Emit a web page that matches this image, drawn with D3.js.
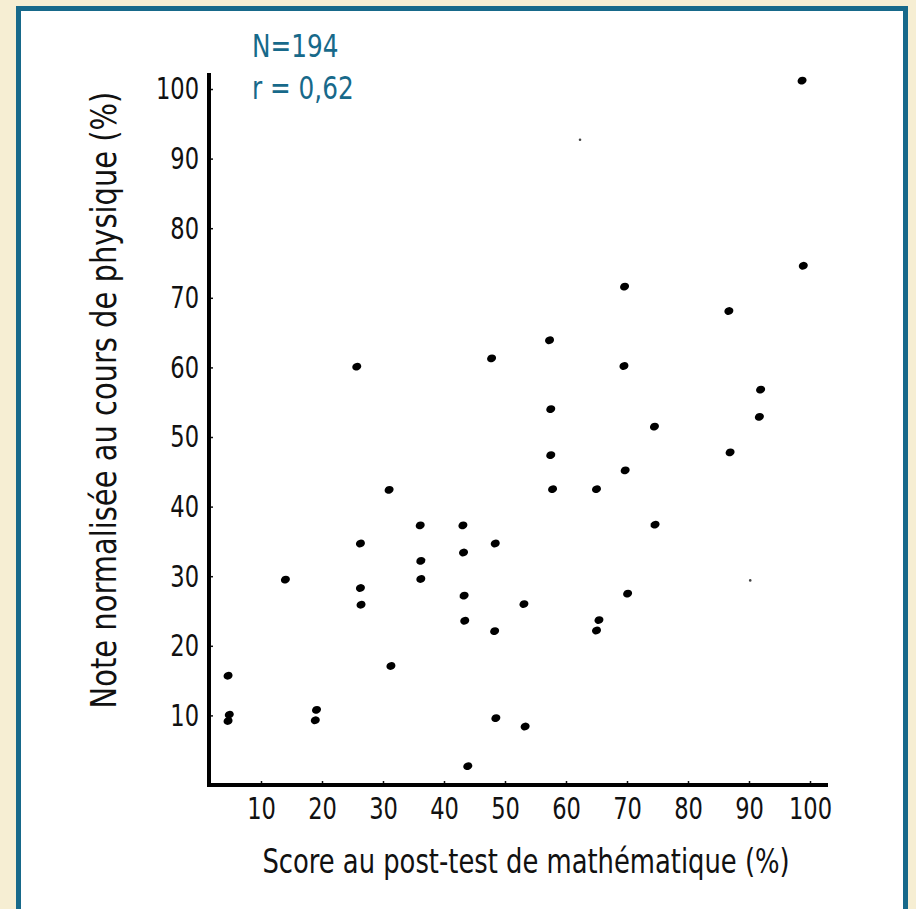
<!DOCTYPE html>
<html>
<head>
<meta charset="utf-8">
<script src="https://cdn.jsdelivr.net/npm/d3@7"></script>
<style>
  html, body { margin: 0; padding: 0; background: #f6eed3; }
  svg { display: block; }
  text { font-family: "Liberation Sans Narrow", "DejaVu Sans Condensed", sans-serif; }
</style>
</head>
<body>
<svg id="chart" width="916" height="909"></svg>
<script>
// score au post-test (x) / note normalisée (y)
const mathScore = [4.6, 4.8, 4.6, 19.1, 18.9, 14.0, 25.7, 26.3, 26.3, 26.4, 31.0, 31.3,
  36.1, 36.2, 36.2, 43.1, 43.2, 43.3, 43.4, 43.9, 47.8, 48.4, 48.3, 48.5, 53.1, 53.3,
  57.3, 57.5, 57.5, 57.8, 65.0, 65.4, 65.0, 69.6, 69.5, 69.7, 70.1, 74.5, 74.6,
  86.7, 86.9, 91.9, 91.7, 98.7, 98.9];
const physNote = [15.7, 10.1, 9.2, 10.8, 9.3, 29.5, 60.1, 34.7, 28.3, 25.9, 42.4, 17.1,
  37.3, 32.2, 29.6, 37.3, 33.4, 27.2, 23.6, 2.7, 61.3, 34.7, 22.1, 9.6, 26.0, 8.4,
  63.9, 54.0, 47.4, 42.5, 42.5, 23.7, 22.2, 71.6, 60.2, 45.2, 27.5, 51.5, 37.4,
  68.1, 47.8, 56.8, 52.9, 101.2, 74.6];
// petites taches du scan
const speckX = [62.3, 90.2];
const speckY = [92.7, 29.4];

const xTicks = [10, 20, 30, 40, 50, 60, 70, 80, 90, 100];
const yTicks = [10, 20, 30, 40, 50, 60, 70, 80, 90, 100];
const stats = ["N=194", "r = 0,62"];
const xTitle = "Score au post-test de mathématique (%)";
const yTitle = "Note normalisée au cours de physique (%)";

const data = mathScore.map((m, i) => ({ x: m, y: physNote[i] }));

const svg = d3.select("#chart");
const teal = "#17698a";
const narrow = 0.81; // police condensée simulée

// cadre
svg.append("rect")
  .attr("x", 18.5).attr("y", 8.5)
  .attr("width", 887).attr("height", 940)
  .attr("fill", "#fff")
  .attr("stroke", teal)
  .attr("stroke-width", 5);

const x = d3.scaleLinear().domain([0, 100]).range([200, 810]);
const y = d3.scaleLinear().domain([0, 100]).range([785, 89]);

const xAxis = svg.append("g")
  .attr("transform", `translate(0,${y(0)})`)
  .call(d3.axisBottom(x).tickValues(xTicks).tickSize(-4).tickPadding(12));
const yAxis = svg.append("g")
  .attr("transform", `translate(209,0)`)
  .call(d3.axisLeft(y).tickValues(yTicks).tickSize(-4).tickPadding(11 / narrow));

[xAxis, yAxis].forEach(g => {
  g.select(".domain").remove();
  g.selectAll(".tick line").attr("stroke", "#111").attr("stroke-width", 1.5);
  g.selectAll(".tick text")
    .attr("fill", "#111")
    .attr("transform", `scale(${narrow},1)`)
    .style("font-family", null)
    .style("font-size", "31px");
});
yAxis.selectAll(".tick text").attr("x", -10 / narrow);
xAxis.attr("font-family", null);
yAxis.attr("font-family", null);

// axes épais
svg.append("line")
  .attr("x1", 209).attr("x2", 209)
  .attr("y1", 73).attr("y2", y(0) + 2)
  .attr("stroke", "#000").attr("stroke-width", 4);
svg.append("line")
  .attr("x1", 207).attr("x2", 828)
  .attr("y1", y(0)).attr("y2", y(0))
  .attr("stroke", "#000").attr("stroke-width", 4);

svg.selectAll(".dot")
  .data(data)
  .enter()
  .append("ellipse")
  .attr("class", "dot")
  .attr("cx", d => x(d.x))
  .attr("cy", d => y(d.y))
  .attr("rx", 4.6)
  .attr("ry", 3.8)
  .attr("transform", d => `rotate(-20,${x(d.x)},${y(d.y)})`)
  .attr("fill", "#000");

svg.selectAll(".speck")
  .data(speckX)
  .enter()
  .append("circle")
  .attr("class", "speck")
  .attr("cx", d => x(d))
  .attr("cy", (d, i) => y(speckY[i]))
  .attr("r", 1.3)
  .attr("fill", "#444");

svg.selectAll(".stat")
  .data(stats)
  .enter()
  .append("text")
  .attr("class", "stat")
  .attr("transform", (d, i) => `translate(252,${57 + i * 42}) scale(0.86,1)`)
  .attr("fill", teal)
  .style("font-size", "32px")
  .text(d => d);

svg.append("text")
  .attr("transform", "translate(526,873) scale(0.87,1)")
  .attr("text-anchor", "middle")
  .style("font-size", "33px")
  .attr("fill", "#111")
  .text(xTitle);

svg.append("text")
  .attr("transform", "translate(116,400) rotate(-90) scale(0.92,1)")
  .attr("text-anchor", "middle")
  .style("font-size", "35px")
  .attr("fill", "#111")
  .text(yTitle);
</script>
</body>
</html>
